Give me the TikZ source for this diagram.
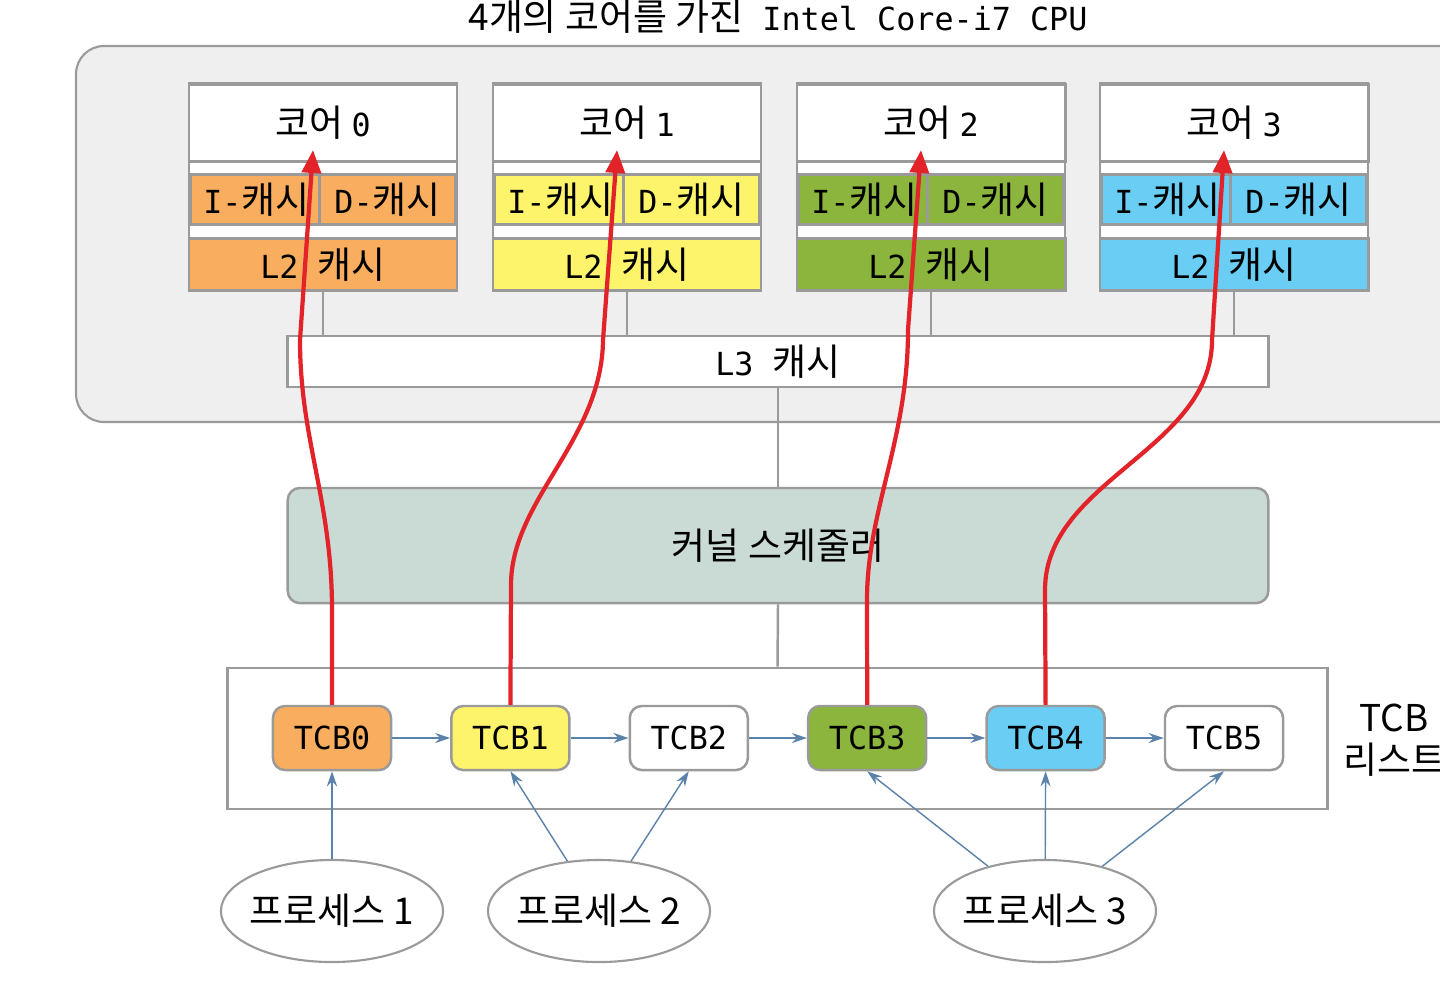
\documentclass[tikz,border=0pt]{standalone}
\usepackage{fontspec}
\setmainfont{Noto Sans CJK KR}
\newfontfamily\codefont{DejaVu Sans Mono}[Scale=0.86]
\newcommand{\code}[1]{{\codefont #1}}
\usetikzlibrary{shapes, arrows.meta, positioning}

\definecolor{cpugray}{HTML}{EFEFEF}
\definecolor{linegray}{HTML}{9A9A9A}
\definecolor{corange}{HTML}{F9AE5F}
\definecolor{cyellow}{HTML}{FEF46C}
\definecolor{cgreen}{HTML}{8BB53D}
\definecolor{cblue}{HTML}{6ACDF3}
\definecolor{schedgreen}{HTML}{CADAD5}
\definecolor{tcbblue}{HTML}{5B82AB}
\definecolor{flowred}{HTML}{E2232A}

\tikzset{
  corebox/.style={draw=linegray, line width=0.8pt, fill=white, minimum width=2.68cm, minimum height=0.77cm, inner sep=0pt},
  cachebox/.style={draw=linegray, line width=0.8pt, minimum height=0.5cm, inner sep=0pt},
  link/.style={draw=linegray, line width=0.7pt},
  tcbbox/.style={draw=linegray, line width=0.7pt, rounded corners=0.12cm, minimum width=1.18cm, minimum height=0.64cm, inner sep=0pt, font=\fontsize{10.5}{12}\codefont},
  tcbarrow/.style={draw=tcbblue, line width=0.4pt, -{Stealth[length=0.15cm, width=0.1cm]}},
  procbox/.style={ellipse, draw=linegray, line width=0.6pt, fill=white, minimum width=2.22cm, minimum height=1.02cm, inner xsep=-0.1cm, inner ysep=0pt},
  flow/.style={draw=flowred, line width=1.2pt, -{Triangle[length=0.23cm, width=0.19cm]}}
}

\begin{document}
\begin{tikzpicture}[x=0.01cm, y=-0.01cm, font=\fontsize{10.5}{12}\selectfont]

\useasboundingbox (0,0) rectangle (1440,993);
\clip (0,0) rectangle (1440,993);
\fill [white] (0,0) rectangle (1440,993);

%CPU Package
\node (title) at (778,17) {4개의 코어를 가진\code{ Intel Core-i7 CPU}};
\filldraw [fill=cpugray, draw=linegray, line width=0.6pt, rounded corners=0.28cm] (76,46) rectangle (1470,422);

%Cores
\foreach \i/\x/\col in {0/323/corange, 1/627/cyellow, 2/931/cgreen, 3/1234/cblue} {
  \filldraw [fill=white, draw=linegray, line width=0.8pt] ({\x-134},83) rectangle ({\x+134},289);
  \node [corebox, anchor=north] (core\i) at (\x,83) {코어 \code{\i}};
  \node [cachebox, fill=\col, minimum width=1.32cm, anchor=north west] (icache\i) at ({\x-134},173) {\code{I-}캐시};
  \node [cachebox, fill=\col, minimum width=1.36cm, anchor=north east] (dcache\i) at ({\x+134},173) {\code{D-}캐시};
  \node [cachebox, fill=\col, minimum width=2.68cm, minimum height=0.52cm, anchor=north] (ltwo\i) at (\x,237) {\code{L2 }캐시};
  \coordinate (top\i) at ({\x-10},150);
}

%L3 Cache
\node [cachebox, fill=white, minimum width=9.8cm, minimum height=0.51cm] (lthree) at (778,361.5) {\code{L3 }캐시};
\foreach \i in {0,...,3}
  \draw [link] (ltwo\i.south) -- (ltwo\i.south |- lthree.north);

%Scheduler & TCB List
\node [draw=linegray, line width=0.7pt, fill=schedgreen, rounded corners=0.12cm, minimum width=9.8cm, minimum height=1.15cm] (sched) at (778,545.5) {커널 스케줄러};
\node [draw=linegray, line width=0.8pt, fill=white, minimum width=10.99cm, minimum height=1.41cm] (tcblist) at (777.5,738.5) {};
\draw [link] (lthree.south) -- (sched.north);
\draw [link] (sched.south) -- (tcblist.north);
\node [align=center, font=\fontsize{10.5}{12}\selectfont] (listname) at (1394,740) {TCB\\리스트};

\foreach \i/\col in {0/corange, 1/cyellow, 2/white, 3/cgreen, 4/cblue, 5/white}
  \node [tcbbox, fill=\col] (tcb\i) at ({332+178.4*\i},738) {TCB\i};
\foreach \a/\b in {0/1, 1/2, 2/3, 3/4, 4/5}
  \draw [tcbarrow] (tcb\a) -- (tcb\b);

%Processes
\foreach \i/\x in {1/332, 2/599, 3/1045}
  \node [procbox] (proc\i) at (\x,911) {프로세스 \i};
\draw [tcbarrow] (proc1) -- (tcb0);
\foreach \p/\t in {2/1, 2/2, 3/3, 3/4, 3/5}
  \draw [tcbarrow] (proc\p) -- (tcb\t.south);

%Scheduling Paths
\draw [flow] (tcb0.north) -- (332,610) .. controls (332,500) and (300,440) .. (300,340) -- (top0);
\draw [flow] (tcb1.north) -- (511,585) .. controls (511,500) and (602,440) .. (603,340) -- (top1);
\draw [flow] (tcb3.north) -- (867,600) .. controls (867,510) and (908,440) .. (908,330) -- (top2);
\draw [flow] (tcb4.north) -- (1045,590) .. controls (1045,480) and (1212,450) .. (1212,340) -- (top3);

\end{tikzpicture}
\end{document}
